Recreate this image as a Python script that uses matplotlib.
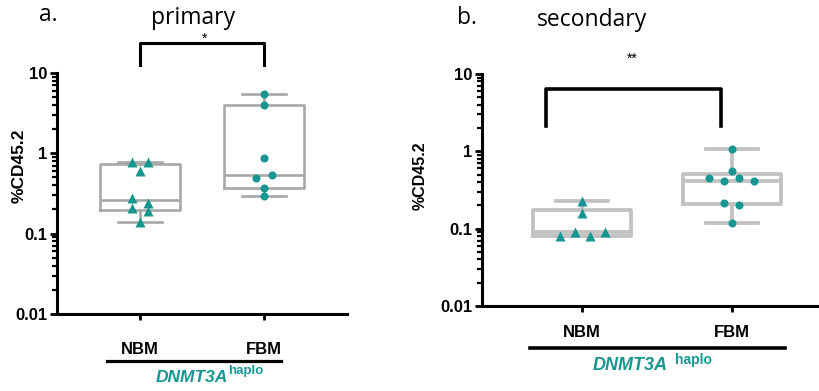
import numpy as np
import matplotlib
matplotlib.use('Agg')
import matplotlib.pyplot as plt
from matplotlib.lines import Line2D

plt.rcParams['font.family'] = ['Liberation Sans', 'DejaVu Sans']

TEAL = '#169690'
groups = ['NBM', 'FBM']

# %CD45.2 per mouse
primary_nbm = [0.79, 0.79, 0.61, 0.28, 0.24, 0.21, 0.19, 0.14]
primary_fbm = [5.46, 4.0, 0.88, 0.49, 0.53, 0.37, 0.295]
secondary_nbm = [0.23, 0.159, 0.08, 0.09, 0.08, 0.09]
secondary_fbm = [1.07, 0.56, 0.45, 0.415, 0.45, 0.415, 0.216, 0.2, 0.119]

yticks = [0.01, 0.1, 1, 10]
yticklabels = ['0.01', '0.1', '1', '10']


def box_stats(vals):
    q1, med, q3 = np.percentile(vals, [25, 50, 75], method='weibull')
    return dict(med=med, q1=q1, q3=q3, whislo=min(vals), whishi=max(vals), fliers=[])


def swarm(vals, pos, step, tol=0.09):
    # points that sit close together on the log axis go side by side
    rows = []
    for v in vals:
        if rows and abs(np.log10(v) - np.log10(rows[-1][0])) < tol:
            rows[-1].append(v)
        else:
            rows.append([v])
    xs, ys = [], []
    for r in rows:
        n = len(r)
        for i, v in enumerate(r):
            xs.append(pos + (i - (n - 1) / 2) * step)
            ys.append(v)
    return xs, ys


def panel(ax, nbm, fbm, xlim, box_color, box_lw, step, pad):
    ax.set_yscale('log')
    ax.set_ylim(0.01, 10)
    ax.set_xlim(*xlim)
    ax.bxp([box_stats(nbm), box_stats(fbm)], positions=[0, 1], widths=0.65,
           capwidths=0.35, showfliers=False,
           boxprops=dict(color=box_color, lw=box_lw),
           medianprops=dict(color=box_color, lw=box_lw),
           whiskerprops=dict(color=box_color, lw=box_lw),
           capprops=dict(color=box_color, lw=box_lw))
    x, y = swarm(nbm, 0, step)
    ax.plot(x, y, '^', color=TEAL, ms=6.8, mec='none', zorder=5)
    x, y = swarm(fbm, 1, step)
    ax.plot(x, y, 'o', color=TEAL, ms=5.8, mec='none', zorder=5)

    for s in ['top', 'right']:
        ax.spines[s].set_visible(False)
    for s in ['left', 'bottom']:
        ax.spines[s].set_linewidth(2.2)
    ax.set_yticks(yticks)
    ax.set_yticklabels(yticklabels, fontsize=12, fontweight='bold')
    ax.tick_params(axis='y', which='major', length=5, width=2, pad=2)
    ax.tick_params(axis='y', which='minor', length=3.5, width=1.6)
    ax.set_xticks([0, 1])
    ax.set_xticklabels(groups, fontsize=12, fontweight='bold')
    ax.tick_params(axis='x', length=4, width=2, pad=pad)


fig = plt.figure(figsize=(8.2, 3.91), dpi=100)

ax1 = fig.add_axes([0.0695, 0.197, 0.3537, 0.6164])
panel(ax1, primary_nbm, primary_fbm, (-0.669, 1.669), '#a8a8a8', 1.9, 0.13, 16)
ax1.set_ylabel('%CD45.2', fontsize=12.5, fontweight='bold')
ax1.yaxis.set_label_coords(-0.104, 0.614)
ax1.plot([0, 0, 1, 1], [12.4, 23.9, 23.9, 12.4], color='black', lw=2.2, clip_on=False)
ax1.text(0.52, 27, '*', ha='center', va='center', fontsize=10)

ax2 = fig.add_axes([0.5878, 0.2174, 0.4122, 0.5934])
panel(ax2, secondary_nbm, secondary_fbm, (-0.667, 1.587), '#c2c2c2', 2.7, 0.1, 10)
ax2.set_ylabel('%CD45.2', fontsize=11.5, fontweight='bold')
ax2.yaxis.set_label_coords(-0.160, 0.56)
ax2.plot([-0.24, -0.24, 0.927, 0.927], [2.15, 6.44, 6.44, 2.15], color='black', lw=2.6, clip_on=False)
ax2.text(0.333, 15.7, '**', ha='center', va='center', fontsize=10)

# panel letters and titles
fig.text(48 / 820, 1 - 15 / 391, 'a.', ha='center', va='center', fontsize=16.5, family='Open Sans')
fig.text(193 / 820, 1 - 18 / 391, 'primary', ha='center', va='center', fontsize=16.5, family='Open Sans')
fig.text(467 / 820, 1 - 18 / 391, 'b.', ha='center', va='center', fontsize=16.5, family='Open Sans')
fig.text(592 / 820, 1 - 20 / 391, 'secondary', ha='center', va='center', fontsize=16.5, family='Open Sans')

# genotype bars under the group labels
fig.add_artist(Line2D([107 / 820, 281 / 820], [1 - 361 / 391] * 2, color='black', lw=2.3))
fig.add_artist(Line2D([530 / 820, 785 / 820], [1 - 348 / 391] * 2, color='black', lw=2.6))
fig.text(228 / 820, 1 - 378 / 391, 'DNMT3A', ha='right', va='center', fontsize=12.5,
         fontweight='bold', style='italic', color=TEAL)
fig.text(228 / 820, 1 - 371 / 391, 'haplo', ha='left', va='center', fontsize=9.5,
         fontweight='bold', color=TEAL)
fig.text(668 / 820, 1 - 365 / 391, 'DNMT3A', ha='right', va='center', fontsize=13,
         fontweight='bold', style='italic', color=TEAL)
fig.text(675 / 820, 1 - 360 / 391, 'haplo', ha='left', va='center', fontsize=10,
         fontweight='bold', color=TEAL)

fig.savefig('out.png', dpi=100)
